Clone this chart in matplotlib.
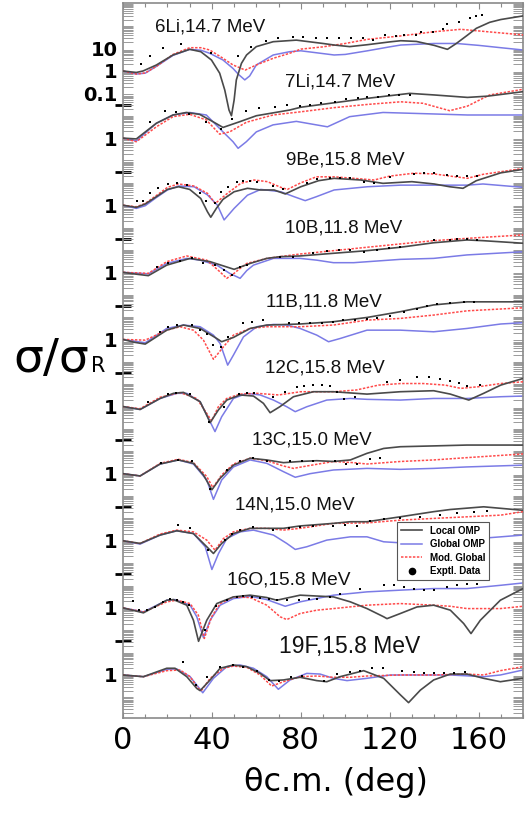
import numpy as np
import matplotlib
matplotlib.use("Agg")
import matplotlib.pyplot as plt
from matplotlib.ticker import LogLocator, FixedLocator, NullFormatter, MultipleLocator
from matplotlib.lines import Line2D

# ---------------- data (sigma/sigma_R) ----------------
labels = ["6Li,14.7 MeV", "7Li,14.7 MeV", "9Be,15.8 MeV", "10B,11.8 MeV", "11B,11.8 MeV",
          "12C,15.8 MeV", "13C,15.0 MeV", "14N,15.0 MeV", "16O,15.8 MeV", "19F,15.8 MeV"]

li6_local_deg = [0,6,9,15,22.5,30,35,39.8,43.5,45.8,47.7,48.8,50,51,53.3,55.6,60,67.6,78,90,95,102,110,120,125,132,140,146,150,155,159,165,170,180]
li6_local = [1,0.86,1.0,1.85,5.2,9.3,7.3,3.1,0.8,0.14,0.018,0.01,0.05,0.4,2.2,5.2,12.3,20.4,24,17,14.5,12.3,15,20,22.6,21,14,9.3,17,40,81,150,200,290]
li6_global_deg = [0,6,10,15,22.5,30,35,39,45,49.5,52,54.8,57,60,67.6,75,80,90,95,100,110,120,125,140,150,160,170,180]
li6_global = [1,0.73,0.8,1.6,5.0,9.3,8.5,6.2,3.1,1.3,0.7,0.40,0.6,1.86,5.2,7.3,8,6,5.2,5.5,8,12,14.5,17,17,14,11,8.7]
li6_mod_deg = [0,6,10,15,22.5,30,35,39,45,49.5,55,60,67.6,75,80,90,100,110,125,140,152,164,180]
li6_mod = [1,0.73,0.82,1.6,5.5,11,11,8.7,3.7,1.86,1.1,1.86,3.7,6.2,9.5,12,17,26,37,57,73,57,41]
li6_exp_deg = [8.3,12,18,26.3,39.8,51.8,57.8,64.3,69.8,76.3,80.8,86.8,92,97.3,102.6,107.8,112.4,117.9,122.9,126.6,131.9,134.2,139.4,144.2,145.8,151,156,159,161.7]
li6_exp = [2.0,4.7,11,15.5,6.2,4.7,12.3,22.6,29,32,34,31,29,31,29,29,24.5,41,37,41,41,54,57,76,123,158,228,297,316]

li7_local_deg = [0,6,15,22.5,28.5,34.5,40.5,45,52.5,60,75,80,95,110,129,140,155,164,180]
li7_local = [1,0.92,4.6,10.8,14,11.5,5.4,3.0,5.4,10,18,24,38,60,100,85,66,75,119]
li7_global_deg = [0,6,15,22.5,30,37.5,45,49.5,51.8,55.5,60,67.5,78,92,102,117,140,155,180]
li7_global = [1,0.75,4.6,10.8,14,10.8,1.9,0.69,0.35,0.69,1.9,3.9,5.6,3.2,9.1,14,12,10.8,10.8]
li7_mod_deg = [0,6,15,22.5,30,37.5,43.5,48,55.5,67.5,80,95,110,125,135,147,155,165,180]
li7_mod = [1,0.69,3.2,9.1,11.6,6.5,1.5,1.9,5.1,10.8,15,23,32,42,36,16.8,27,85,152]
li7_exp_deg = [12,18.8,23.7,29.7,37.2,44.3,49.2,55.5,61.3,68.3,74,79.5,84,89.2,95.2,100.4,105.7,110,114.6,119.8,124.3,129.3]
li7_exp = [5.4,16.7,15,11.6,5.4,2.5,7.1,16.7,21.5,25,30,28,30,36,40,54,60,71,71,85,89,89]

be9_local_deg = [0,6,10,15,20,25,30,35,38,39.5,42,45,50,56,62,68,73,80,88,95,107,117,130,140,147,153,159,170,180]
be9_local = [1,0.80,1.13,2.4,5.1,6.7,5.1,2.0,0.51,0.29,0.72,1.83,4.0,5.7,4.8,4.8,3.2,6.7,12.5,15.9,13.4,9.5,11.3,8.9,6.7,5.7,12.5,28,40]
be9_global_deg = [0,6,10,15,20,25,32,38,42.5,45.5,50,56,62,71,77,82,87,95,110,125,140,155,162,180]
be9_global = [1,0.72,0.95,2.2,4.8,7.2,6.7,2.9,1.0,0.22,0.72,2.8,5.1,4.0,2.4,1.6,2.4,4.8,6.7,7.9,7.9,7.9,8.9,6.3]
be9_mod_deg = [0,6,10,15,20,25,32,38,41.5,47,53,59,65,71,74,80,87,95,104,113,120,131,140,149,155,162,180]
be9_mod = [1,0.85,1.2,2.7,6.3,8.9,7.2,3.4,1.2,3.4,9.5,13.4,11.3,6.3,5.1,10,18.6,18.6,15.9,13.4,20,27,25,19,16,24,44]
be9_exp_deg = [6.2,9.2,12.2,15.9,20.4,24.2,29,34.7,37.4,41.4,44,47.4,51.2,54.2,57.2,60.2,67.7,72.2,82.7,87.2,93.2,97.7,102.3,108.3,112.8,120.3,130.8,135.3,139.8,145.8,150.3,154.8,159.3]
be9_exp = [1.54,1.6,3.4,5.7,8.5,9.5,8,3.4,1.54,1.2,4.0,6.7,10.5,12.5,12.5,11.3,7.2,5.1,10,14.4,15.9,17,15.9,11.3,10,19,25,28,28,22,20,20,20]

b10_local_deg = [0,5,11.4,19.7,30.2,39.2,50,57.2,64.7,70.7,79.7,94.7,109.8,124.8,139.8,154.8,162,180]
b10_local = [1,0.85,0.71,2.1,4.2,3.0,1.36,2.5,4.2,5.0,5.4,7.1,9.3,13.2,21,28,26,20]
b10_global_deg = [0,11.4,19.7,28.7,34.7,42.2,48,52.7,55.7,58.7,67.7,79.7,87.2,94.7,103.8,124.8,139.8,154.8,180]
b10_global = [1,0.85,2.5,4.2,3.5,2.1,0.9,0.54,1.2,2.1,4.2,4.2,3.5,2.7,2.7,3.8,4.2,6.0,8.3]
b10_mod_deg = [0,11.4,19.7,28.7,37.7,43,46.7,50,52.7,55.7,64.7,79.7,94.7,109.8,124.8,139.8,154.8,180]
b10_mod = [1,0.9,3.0,5.4,3.5,1.2,0.54,0.9,1.5,2.5,4.2,6.6,9.3,13.2,18.6,26,33,47]
b10_exp_deg = [15.2,20.4,25.7,30.9,36.2,41.4,45.5,49,52.7,55.7,70.7,76.7,85.7,91.7,97,102.3,108.3,114.3,119.5,124.8,139.8,147.3,150.3,154.8,159.3]
b10_exp = [1.67,2.5,3.3,4.2,2.7,2.1,1.27,0.76,1.67,2.1,4.7,5.0,7.6,9.3,10,10,8.4,10,11.8,14,28,28,30,32,28]

b11_local_deg = [0,5,10,19.7,27.2,34.7,42.2,44.4,49.7,57.2,64.7,79.7,94.7,109.8,124.8,139.8,154.8,180]
b11_local = [1,0.75,0.62,2.6,4.4,3.1,1.1,0.79,1.23,3.1,4.4,4.9,6.2,9.6,17.4,35,48,48]
b11_global_deg = [0,10,19.7,27.2,34.7,40.7,43.7,47.1,49.7,54.2,60.2,67.7,73.7,79.7,87.2,92.5,97.7,109.8,124.8,139.8,154.8,170,180]
b11_global = [1,0.71,3.1,4.4,3.7,1.56,0.66,0.071,0.2,1.3,3.7,4.7,4.4,3.1,1.56,0.79,1.1,2.6,2.6,2.2,3.1,4.9,5.6]
b11_mod_deg = [0,10,19.7,25.7,31.7,36.2,40.7,45.2,49.7,57.2,64.7,79.7,94.7,109.8,124.8,139.8,154.8,180]
b11_mod = [1,0.93,2.6,3.7,2.6,0.93,0.13,0.47,1.56,3.1,3.7,3.7,4.4,7.3,8.7,12.3,19,26]
b11_exp_deg = [16.7,20.4,24.2,30.9,34.7,37.7,40.7,44,47.4,54.2,58,63.2,74.5,79,84.2,89.5,94.7,99.2,104.5,109.8,114.3,120.3,126.3,132.3,136.8,141.3,147.3,153.3,157.8]
b11_exp = [2.2,3.7,4.4,4.4,2.6,1.7,0.56,0.44,1.23,5.2,6.2,7.3,5.2,5.2,5.2,5.2,6.2,7.3,7.3,7.8,8.7,11,17,24,31,38,44,48,48]

c12_local_deg = [0,7.7,16.7,22.7,27.2,34.7,38,39.2,42.9,46.7,52.7,58.7,63.2,66.2,70.7,76.7,85.7,94.7,109.8,124.8,139.8,147.3,155.6,162.3,170,180]
c12_local = [1,0.74,2.3,3.9,4.3,1.65,0.35,0.19,0.70,1.95,3.3,2.95,1.39,0.53,1.0,2.75,4.6,4.6,3.6,4.6,5.1,3.6,1.95,3.9,9.1,18]
c12_global_deg = [0,7.7,16.7,24.2,28.7,34.7,39.2,41.4,44.4,49.7,55.7,61.7,67.7,73.7,77.5,82.7,91.7,102.3,109.8,124.8,139.8,154.8,170,180]
c12_global = [1,0.74,2.3,3.9,3.9,1.65,0.21,0.076,0.35,2.3,3.9,3.3,1.95,0.98,0.59,0.98,1.95,2.3,2.1,1.95,2.3,2.3,2.75,2.95]
c12_mod_deg = [0,7.7,16.7,25.7,33.2,37.7,39.9,42.9,46.7,52.7,60.2,70,80,95,105,115,125,135,145,152,160,170,180]
c12_mod = [1,0.8,2.6,4.2,2.3,0.49,0.23,0.98,2.3,3.6,3.9,3.3,4.6,4.6,5.5,9.1,10.7,10.7,9.1,6.5,7.7,10.7,12.8]
c12_exp_deg = [11.4,20.4,23.9,30.2,38.9,45.5,52,55.7,59,67.7,73,78.2,81.5,85.7,89.5,93.2,96.5,99.5,104.5,118.8,124.8,132.3,137.5,142.8,147.3,151,154.8,160.8]
c12_exp = [1.65,3.6,3.9,3.6,0.21,1.0,3.6,4.2,4.2,2.75,4.6,7.7,8.3,9.1,9.1,8.3,4.6,2.1,2.75,12.9,15.4,21.5,20,16.4,14.3,10.9,8.3,9.1]

c13_local_deg = [0,7.7,16.7,24.9,31.7,36.2,40,43.7,49.7,57.2,64.7,72.2,79.7,87.2,94.7,102.3,109.8,117.3,124.8,139.8,154.8,180]
c13_local = [1,0.79,2.7,4.1,2.9,0.87,0.19,0.62,2.4,4.9,4.1,3.1,3.5,3.8,3.5,4.1,8.1,13.4,16,17.4,19,19]
c13_global_deg = [0,7.7,16.7,24.9,31.7,37.7,40.7,44.4,49.7,57.2,64.7,72.2,77.5,84.2,94.7,109.8,124.8,139.8,154.8,180]
c13_global = [1,0.79,2.7,4.1,2.7,0.52,0.071,0.52,2.0,4.1,2.9,1.23,0.69,1.0,1.46,1.72,1.56,1.72,2.0,2.4]
c13_mod_deg = [0,7.7,16.7,24.9,31.7,37.7,40.4,44.4,49.7,57.2,64.7,72.2,76.7,82.7,94.7,103.8,109.8,124.8,139.8,154.8,180]
c13_mod = [1,0.79,2.9,4.4,3.1,0.74,0.24,0.87,2.7,4.9,3.8,2.2,1.72,2.2,3.5,3.1,2.7,3.5,4.1,5.2,7.6]
c13_exp_deg = [17,24.9,30.9,39.2,46.7,52.7,58.7,64.7,75.2,80.5,85.7,95.5,100.3,105.3,111,115.8]
c13_exp = [3.1,4.1,3.5,0.2,1.46,3.8,4.9,3.8,3.5,3.5,3.8,3.5,2.7,2.7,4.4,4.9]

n14_local_deg = [0,7.7,16.7,24.2,31.7,36.2,40.7,44.4,49.7,57.2,64.7,72.2,79.7,94.7,102.3,109.8,124.8,139.8,147.3,162.3,180]
n14_local = [1,0.76,1.8,2.8,2.1,0.76,0.27,0.76,2.1,3.6,3.6,3.6,4.6,6.0,7.1,7.1,11.8,20,25,33,23]
n14_global_deg = [0,7.7,16.7,24.2,31.7,37,40,43,46.7,52.7,58.7,67.7,73.7,77.5,82.7,91.7,102.3,109.8,117.3,124.8,139.8,154.8,170,180]
n14_global = [1,0.71,1.8,2.8,2.1,0.54,0.052,0.27,1.26,2.5,3.0,1.8,0.76,0.41,0.54,1.07,1.5,1.5,0.9,0.81,0.9,1.15,1.5,1.8]
n14_mod_deg = [0,7.7,16.7,24.2,31.7,37.7,41.4,45.2,49.7,57.2,64.7,72.2,79.7,94.7,110,125,140,155,170,180]
n14_mod = [1,0.76,2.0,3.0,2.5,1.07,0.38,1.26,2.5,3.6,3.6,3.0,3.6,6.0,6.3,8.4,10,11.8,14,20]
n14_exp_deg = [24.9,30.2,38.4,45.9,49,52.7,58.7,67.7,74.5,79.7,85.7,94.7,100,105.3,111.3,117.3,124.8,133.8,142.8,150.3,157.8,163.8]
n14_exp = [5.0,3.6,0.38,1.07,2.1,3.0,4.0,3.0,3.6,4.0,4.5,4.5,5.0,4.5,7.8,9.0,10,11.8,14.1,16.6,20,22]

o16_local_deg = [0,9.2,19.7,22.7,28.7,31.7,34,37.7,42.2,49.7,57.2,64.7,69.2,79.7,94.7,102.3,109.8,117.3,118.8,124.8,132.3,139.8,147.3,153.3,156.6,160.8,169.8,180]
o16_local = [1,0.6,2.2,2.35,1.32,0.28,0.032,0.28,1.56,3.1,3.7,2.9,2.2,3.7,3.1,1.86,0.93,0.4,0.33,0.56,1.1,1.32,0.79,0.2,0.071,0.28,2.2,7.3]
o16_global_deg = [0,9.2,19.7,23.4,30.2,33.2,36.2,39.2,43.7,49.7,57.2,64.7,73,79.7,94.7,109.8,124.8,139.8,154.8,169.8,180]
o16_global = [1,0.66,2.2,2.35,1.32,0.4,0.047,0.28,1.32,2.6,3.3,2.35,1.18,1.86,3.7,5.2,6.2,7.3,7.3,10.2,13]
o16_mod_deg = [0,9.2,19.7,24.2,30.2,33.9,36.6,39.9,43.7,49.7,57.2,64.7,70.7,73.7,79.7,87.2,94.7,109.8,124.8,139.8,147.3,154.8,169.8,180]
o16_mod = [1,0.66,1.86,2.2,1.56,0.47,0.043,0.4,1.56,3.1,2.9,1.32,0.4,0.3,0.56,0.79,0.93,1.32,1.56,1.32,1.18,0.93,0.93,1.18]
o16_exp_deg = [4.7,7.4,10.7,14.4,18.2,21.2,24.2,27.2,29.9,36.9,41.9,46.7,51.2,54.2,58,61.7,65.5,69.2,73.7,79,83.5,87.2,93.2,97.7,106.8,117.3,121.8,126.3,130.8,135.3,139.8,145.8,150.3,154.8,159.3]
o16_exp = [2.05,0.79,0.84,1.1,1.86,2.4,2.2,1.86,1.4,0.1,1.18,2.35,3.1,3.3,3.1,2.9,2.6,2.2,2.35,2.35,2.6,2.6,3.1,4.1,7.3,10.3,10.3,8.7,7.3,6.6,6.6,8.7,10.3,11.4,11.4]

f19_local_deg = [0,9.2,19.7,23.4,28.7,33.2,34.7,39.2,43.7,49.7,55.7,61.7,66.2,72.2,79.7,87.2,91.7,97.7,108.3,117.3,124.8,128.5,133.8,139.8,147.3,154.8,162.3,169.8,180]
f19_local = [1,0.84,2.0,2.0,0.84,0.25,0.2,0.6,2.0,2.8,2.35,1.18,0.56,0.6,0.79,0.56,0.5,0.84,1.56,0.71,0.13,0.058,0.21,0.6,1.1,1.1,0.71,0.5,0.71]
f19_global_deg = [0,9.2,19.7,24.2,30.2,34.7,35.9,40.7,46.7,52.7,58.7,64.7,69.9,75.2,82.7,88.7,94.7,100.8,109.8,120.3,132.3,147.3,162.3,169.8,180]
f19_global = [1,0.84,1.8,1.86,0.84,0.23,0.16,0.71,2.35,2.8,2.0,0.84,0.23,0.6,1.18,1.1,0.71,0.56,0.71,1.0,1.0,1.0,0.84,1.0,1.67]
f19_mod_deg = [0,9.2,19.7,25.7,30.2,33.9,35.4,39.2,45.2,49.7,55.7,61.7,66.9,72.2,79.7,87.2,94.7,102.3,109.8,124.8,139.8,154.8,162.3,169.8,180]
f19_mod = [1,0.84,1.56,1.67,0.84,0.25,0.21,0.71,2.0,2.5,2.2,1.0,0.32,0.5,0.84,0.9,0.79,0.79,0.9,1.0,1.0,1.1,1.0,1.56,2.35]
f19_exp_deg = [27.2,32.9,37.7,43.7,49.7,54.2,60.2,65.5,70.3,75.5,80.5,90.5,96.2,102.3,106.8,112,117,125.5,130.8,135.3,139.8,144.3,148.8,154]
f19_exp = [4.0,0.36,0.84,2.35,2.8,2.35,1.56,0.6,0.56,0.84,0.9,0.56,1.07,1.4,1.56,2.0,2.0,1.56,1.4,1.27,1.18,1.18,1.27,1.4]

x_ticks = [0, 40, 80, 120, 160]
legend_labels = ["Local OMP", "Global OMP", "Mod. Global", "Exptl. Data"]

# ---------------- layout / style ----------------
sets = [
    (li6_local_deg, li6_local, li6_global_deg, li6_global, li6_mod_deg, li6_mod, li6_exp_deg, li6_exp),
    (li7_local_deg, li7_local, li7_global_deg, li7_global, li7_mod_deg, li7_mod, li7_exp_deg, li7_exp),
    (be9_local_deg, be9_local, be9_global_deg, be9_global, be9_mod_deg, be9_mod, be9_exp_deg, be9_exp),
    (b10_local_deg, b10_local, b10_global_deg, b10_global, b10_mod_deg, b10_mod, b10_exp_deg, b10_exp),
    (b11_local_deg, b11_local, b11_global_deg, b11_global, b11_mod_deg, b11_mod, b11_exp_deg, b11_exp),
    (c12_local_deg, c12_local, c12_global_deg, c12_global, c12_mod_deg, c12_mod, c12_exp_deg, c12_exp),
    (c13_local_deg, c13_local, c13_global_deg, c13_global, c13_mod_deg, c13_mod, c13_exp_deg, c13_exp),
    (n14_local_deg, n14_local, n14_global_deg, n14_global, n14_mod_deg, n14_mod, n14_exp_deg, n14_exp),
    (o16_local_deg, o16_local, o16_global_deg, o16_global, o16_mod_deg, o16_mod, o16_exp_deg, o16_exp),
    (f19_local_deg, f19_local, f19_global_deg, f19_global, f19_mod_deg, f19_mod, f19_exp_deg, f19_exp),
]
label_pos = [(210, 27), (340, 82), (345, 160), (344, 228), (324, 302), (325, 368),
             (312, 440), (295, 505), (289, 580), (350, 647)]
label_size = [13.5] * 8 + [13.8, 16.5]

W, H = 531, 816
plt.rcParams['font.family'] = ['DejaVu Sans']
fig = plt.figure(figsize=(W / 100, H / 100), dpi=100)
ax_l, ax_r, ax_t, ax_b = 123, 523, 3, 718
ax = fig.add_axes([ax_l / W, 1 - ax_b / H, (ax_r - ax_l) / W, (ax_b - ax_t) / H])
ax.set_yscale('log')
px_per_dec = 22.37
top_log = (71 - ax_t) / px_per_dec
bot_log = (71 - ax_b) / px_per_dec
ax.set_ylim(10 ** bot_log, 10 ** top_log)
ax.set_xlim(0, 180)

c_loc, c_glob, c_mod = '#4a4a4a', '#7b7be6', '#ff4a4a'
for k, (ld, lv, gd, gv, md, mv, ed, ev) in enumerate(sets):
    f = 10.0 ** (-3 * k)
    ax.plot(gd, np.array(gv) * f, color=c_glob, lw=1.1, zorder=2)
    ax.plot(md, np.array(mv) * f, color=c_mod, lw=1.1, ls=(0, (1.6, 1.0)), zorder=3)
    ax.plot(ld, np.array(lv) * f, color=c_loc, lw=1.2, zorder=4)
    ax.plot(ed, np.array(ev) * f, ls='none', marker='s', ms=1.6, mew=0, color='black', zorder=5)
    px, py = label_pos[k]
    ax.text((px - ax_l) / (ax_r - ax_l), (ax_b - py) / (ax_b - ax_t), labels[k],
            transform=ax.transAxes, ha='center', va='center',
            fontsize=label_size[k], family='Liberation Sans', color='#111111')

# y ticks: labels at the offset unity of each panel
ymaj = [10.0, 1.0, 0.1] + [10.0 ** (-3 * k) for k in range(1, 10)]
ylab = ['10', '1', '0.1'] + ['1'] * 9
ax.yaxis.set_major_locator(FixedLocator(ymaj))
ax.set_yticklabels(ylab, fontsize=14, fontweight='bold')
ax.yaxis.set_minor_locator(LogLocator(base=10, subs=np.arange(1, 10), numticks=200))
ax.yaxis.set_minor_formatter(NullFormatter())
ax.tick_params(axis='y', which='major', length=0, pad=4)
ax.tick_params(axis='y', which='minor', direction='in', length=7, width=0.7,
               color='#9a9a9a', left=True, right=True)

sec = ax.secondary_yaxis('left')
sec.set_yticks([10.0 ** (-3 * k - 1.5) for k in range(9)])
sec.set_yticklabels([])
sec.tick_params(axis='y', which='major', direction='inout', length=12, width=2, color='black')
sec.tick_params(axis='y', which='minor', length=0)
sec.spines['left'].set_visible(False)

ax.set_xticks(x_ticks)
ax.set_xticklabels([str(v) for v in x_ticks], fontsize=22)
ax.xaxis.set_minor_locator(MultipleLocator(10))
ax.tick_params(axis='x', which='both', direction='in', top=True, bottom=True,
               color='#8a8a8a', length=4, width=0.8, pad=6)
ax.tick_params(axis='x', which='minor', length=3)

for s in ax.spines.values():
    s.set_color('#8a8a8a')
    s.set_linewidth(1.2)

fig.text(336 / W, 1 - 782 / H, 'θc.m. (deg)', ha='center', va='center', fontsize=23)
fig.text(13 / W, 1 - 372 / H, 'σ/σ', ha='left', va='baseline', fontsize=34)
fig.text(91 / W, 1 - 372 / H, 'R', ha='left', va='baseline', fontsize=15)

handles = [Line2D([], [], color=c_loc, lw=1.2),
           Line2D([], [], color=c_glob, lw=1.1),
           Line2D([], [], color=c_mod, lw=1.1, ls=(0, (1.6, 1.0))),
           Line2D([], [], ls='none', marker='o', ms=4.5, color='black')]
leg = ax.legend(handles, legend_labels, loc='upper left',
                bbox_to_anchor=((397 - ax_l) / (ax_r - ax_l), (ax_b - 522) / (ax_b - ax_t)),
                prop={'family': 'Liberation Sans', 'weight': 'bold', 'size': 7},
                frameon=True, fancybox=False, edgecolor='#555555', framealpha=1,
                handlelength=2.2, handletextpad=0.8, labelspacing=0.35, borderpad=0.4,
                borderaxespad=0)
leg.get_frame().set_linewidth(0.8)

fig.savefig('out.png', dpi=100, facecolor='white')
